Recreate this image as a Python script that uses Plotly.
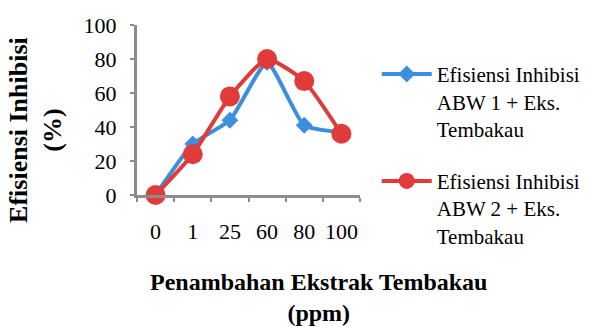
import plotly.graph_objects as go

# Tobacco extract concentration (ppm) and inhibition efficiency (%)
konsentrasi = ["0", "1", "25", "60", "80", "100"]
abw1 = [0, 30, 44, 78, 41, 37]
abw2 = [0, 24, 58, 80, 67, 36]

nama_abw1 = "Efisiensi Inhibisi<br>ABW 1 + Eks.<br>Tembakau"
nama_abw2 = "Efisiensi Inhibisi<br>ABW 2 + Eks.<br>Tembakau"

serif = "Liberation Serif"
abu = "#8c8c8c"

fig = go.Figure()
fig.add_trace(go.Scatter(
    x=konsentrasi, y=abw1, name=nama_abw1, legendgroup="a",
    mode="lines+markers", cliponaxis=False,
    line=dict(color="#3d8fdc", width=4, shape="spline", smoothing=0.5),
    marker=dict(symbol="diamond", size=13, color="#3d8fdc"),
))
fig.add_trace(go.Scatter(
    x=konsentrasi, y=abw2, name=nama_abw2, legendgroup="b",
    mode="lines+markers", cliponaxis=False,
    line=dict(color="#e03a3a", width=4, shape="spline", smoothing=0.5),
    marker=dict(symbol="circle", size=20, color="#e03a3a"),
))

fig.update_layout(
    width=590, height=327,
    margin=dict(l=137, r=230, t=25, b=132, autoexpand=False),
    paper_bgcolor="white", plot_bgcolor="white",
    font=dict(family=serif, size=21, color="black"),
    showlegend=True,
    legend=dict(
        x=1.075, y=0.83, xanchor="left", yanchor="top",
        traceorder="grouped", tracegroupgap=22, valign="top",
        font=dict(family=serif, size=21),
        itemwidth=50, maxheight=320,
    ),
    xaxis=dict(
        type="category", range=[-0.5, 5.5],
        showline=True, linecolor=abu, linewidth=3,
        ticks="outside", tickcolor=abu, ticklen=4, tickwidth=2,
        tickson="boundaries", showgrid=False, zeroline=False,
        tickangle=0,
        tickfont=dict(family=serif, size=22), ticklabelstandoff=15,
    ),
    yaxis=dict(
        range=[0, 100], dtick=20,
        showline=True, linecolor=abu, linewidth=3,
        ticks="outside", tickcolor=abu, ticklen=4, tickwidth=2,
        showgrid=False, zeroline=False,
        tickfont=dict(family=serif, size=22), ticklabelstandoff=9,
    ),
    annotations=[
        dict(text="<b>Efisiensi Inhibisi<br>(%)</b>", xref="paper", yref="paper",
             x=-0.455, y=0.38, xanchor="center", yanchor="middle",
             textangle=-90, showarrow=False,
             font=dict(family=serif, size=26)),
        dict(text="<b>Penambahan Ekstrak Tembakau<br>(ppm)</b>", xref="paper", yref="paper",
             x=0.812, y=-0.60, xanchor="center", yanchor="middle",
             showarrow=False, font=dict(family=serif, size=24)),
    ],
)

fig.write_html("out.html")
